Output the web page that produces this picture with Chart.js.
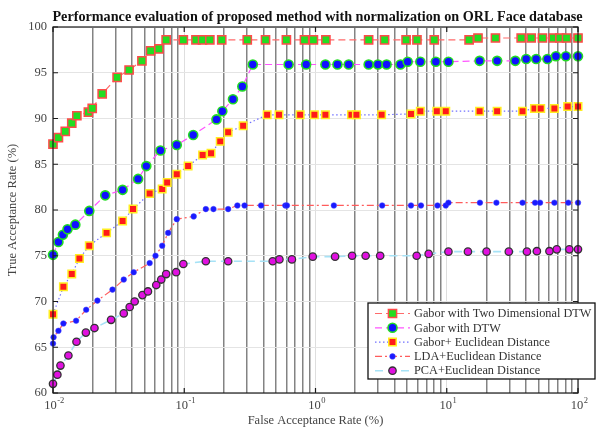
<!DOCTYPE html>
<html>
<head>
<meta charset="utf-8">
<title>ORL Face database – normalization</title>
<script src="https://cdn.jsdelivr.net/npm/chart.js@4.4.1/dist/chart.umd.min.js"></script>
<style>
  html, body { margin: 0; padding: 0; background: #fff; }
  #wrap { width: 596px; height: 430px; }
</style>
</head>
<body>
<div id="wrap"><canvas id="c" width="596" height="430"></canvas></div>
<script>
// ---- text ----
const chartTitle = 'Performance evaluation of proposed method with normalization on ORL Face database';
const xAxisTitle = 'False Acceptance Rate (%)';
const yAxisTitle = 'True Acceptance Rate (%)';
const seriesNames = [
  'Gabor with Two Dimensional DTW',
  'Gabor with DTW',
  'Gabor+ Euclidean Distance',
  'LDA+Euclidean Distance',
  'PCA+Euclidean Distance'
];

// ---- axis ticks ----
const decadeTicks = [0.01, 0.1, 1, 10, 100];
const decadeExponents = ['-2', '-1', '0', '1', '2'];
const minorMultipliers = [2, 3, 4, 5, 6, 7, 8, 9];
const yTickValues = [60, 65, 70, 75, 80, 85, 90, 95, 100];

// ---- series: FAR (%) and TAR (%) ----
const gabor2dFar = [0.01, 0.011, 0.0124, 0.0139, 0.0152, 0.0186, 0.0199, 0.0237, 0.0308, 0.038, 0.0476, 0.0554, 0.0641, 0.0728, 0.0984, 0.1228, 0.1378, 0.1567, 0.193, 0.302, 0.416, 0.6, 0.824, 0.964, 1.2, 2.54, 3.36, 4.9, 5.93, 8.03, 14.8, 17.3, 23.5, 36.9, 44, 53.6, 64.9, 72.8, 81.8, 100];
const gabor2dTar = [87.2, 87.9, 88.6, 89.5, 90.3, 90.7, 91.1, 92.7, 94.5, 95.3, 96.3, 97.4, 97.6, 98.6, 98.6, 98.6, 98.6, 98.6, 98.6, 98.6, 98.6, 98.6, 98.6, 98.6, 98.6, 98.6, 98.6, 98.6, 98.6, 98.6, 98.6, 98.8, 98.8, 98.8, 98.8, 98.8, 98.8, 98.8, 98.8, 98.8];

const gaborDtwFar = [0.01, 0.011, 0.0119, 0.0129, 0.0148, 0.0189, 0.025, 0.0339, 0.0445, 0.0514, 0.0659, 0.0877, 0.117, 0.176, 0.195, 0.235, 0.277, 0.333, 0.624, 0.849, 1.19, 1.47, 1.79, 2.54, 2.99, 3.48, 4.44, 5.04, 6.29, 8.26, 10.3, 17.8, 24.2, 33.3, 40.3, 48, 58.5, 67.9, 80.9, 100];
const gaborDtwTar = [75.1, 76.5, 77.3, 77.9, 78.4, 79.9, 81.6, 82.2, 83.4, 84.8, 86.5, 87.1, 88.2, 89.9, 90.8, 92.1, 93.5, 95.9, 95.9, 95.9, 95.9, 95.9, 95.9, 95.9, 95.9, 95.9, 95.9, 96.2, 96.2, 96.2, 96.2, 96.3, 96.3, 96.3, 96.5, 96.5, 96.5, 96.8, 96.8, 96.8];

const gaborEucFar = [0.01, 0.012, 0.0139, 0.0159, 0.0189, 0.0256, 0.0339, 0.0407, 0.0545, 0.0679, 0.0741, 0.0877, 0.107, 0.138, 0.16, 0.188, 0.216, 0.281, 0.428, 0.527, 0.764, 0.981, 1.19, 1.88, 2.05, 3.19, 5.34, 6.29, 8.4, 9.83, 17.8, 24.2, 37.8, 46.6, 52, 66.1, 83.4, 100];
const gaborEucTar = [68.6, 71.6, 73.0, 74.7, 76.1, 77.5, 78.8, 80.1, 81.8, 82.3, 83.0, 83.9, 84.8, 86.0, 86.2, 87.5, 88.5, 89.2, 90.4, 90.4, 90.4, 90.4, 90.4, 90.4, 90.4, 90.4, 90.5, 90.8, 90.8, 90.8, 90.8, 90.8, 90.8, 91.1, 91.1, 91.1, 91.3, 91.3];

const ldaFar = [0.01, 0.0101, 0.011, 0.012, 0.015, 0.0179, 0.0218, 0.0284, 0.0346, 0.0412, 0.0545, 0.0604, 0.0679, 0.0754, 0.0877, 0.118, 0.146, 0.167, 0.216, 0.254, 0.288, 0.385, 0.589, 0.606, 1.38, 3.22, 5.34, 6.36, 8.5, 9.83, 10.3, 17.9, 23.9, 37.8, 47.1, 51.4, 66.1, 84.3, 100];
const ldaTar = [65.4, 66.1, 66.8, 67.6, 67.9, 69.1, 70.1, 71.3, 72.4, 73.2, 74.2, 75.0, 76.1, 77.5, 79.0, 79.3, 80.1, 80.1, 80.1, 80.5, 80.5, 80.5, 80.5, 80.5, 80.5, 80.5, 80.5, 80.5, 80.5, 80.5, 80.8, 80.8, 80.8, 80.8, 80.8, 80.8, 80.8, 80.8, 80.8];

const pcaFar = [0.01, 0.0108, 0.0114, 0.0131, 0.0151, 0.0178, 0.0207, 0.0277, 0.0346, 0.0384, 0.0419, 0.048, 0.0529, 0.0612, 0.0668, 0.0728, 0.0867, 0.0984, 0.146, 0.216, 0.472, 0.531, 0.661, 0.953, 1.41, 1.9, 2.41, 3.11, 5.9, 7.28, 10.3, 14.5, 20.1, 29.7, 40.8, 48.6, 60.6, 68.9, 85.9, 100];
const pcaTar = [61.0, 62.0, 63.0, 64.1, 65.6, 66.6, 67.1, 68.0, 68.7, 69.4, 70.0, 70.7, 71.1, 71.8, 72.4, 73.0, 73.2, 74.1, 74.4, 74.4, 74.4, 74.6, 74.6, 74.9, 74.9, 75.0, 75.0, 75.0, 75.0, 75.2, 75.45, 75.45, 75.45, 75.45, 75.45, 75.5, 75.5, 75.7, 75.7, 75.7];

// ---- helpers ----
const SERIF = "'Liberation Serif', 'Times New Roman', serif";
const toPoints = (xs, ys) => xs.map((v, i) => ({ x: v, y: ys[i] }));
const isDecade = v => v > 0 && Math.abs(Math.log10(v) - Math.round(Math.log10(v))) < 1e-6;
const xGridValues = [];
decadeTicks.forEach((d, i) => {
  xGridValues.push(d);
  if (i < decadeTicks.length - 1) minorMultipliers.forEach(m => xGridValues.push(+(d * m).toPrecision(6)));
});

function series(label, xs, ys, style) {
  return Object.assign({
    label,
    data: toPoints(xs, ys),
    showLine: true,
    tension: 0,
    clip: false,
    borderWidth: 1.2
  }, style);
}

const datasets = [
  series(seriesNames[0], gabor2dFar, gabor2dTar, {
    borderColor: '#ff6b6b', borderDash: [7, 4],
    pointStyle: 'rect', pointRadius: 5.8, pointBackgroundColor: '#22dd22',
    pointBorderColor: '#ff4a4a', pointBorderWidth: 1.5
  }),
  series(seriesNames[1], gaborDtwFar, gaborDtwTar, {
    borderColor: '#ff55ff', borderDash: [7, 4],
    pointStyle: 'circle', pointRadius: 4.5, pointBackgroundColor: '#1010ff',
    pointBorderColor: '#22dd22', pointBorderWidth: 1.6
  }),
  series(seriesNames[2], gaborEucFar, gaborEucTar, {
    borderColor: '#7070ff', borderDash: [1.5, 2.5],
    pointStyle: 'rect', pointRadius: 5.3, pointBackgroundColor: '#ff1a1a',
    pointBorderColor: '#ffee22', pointBorderWidth: 1.5
  }),
  series(seriesNames[3], ldaFar, ldaTar, {
    borderColor: '#ff5c5c', borderDash: [7, 3, 2, 3],
    pointStyle: 'circle', pointRadius: 2.8, pointBackgroundColor: '#1a1aff',
    pointBorderColor: '#4040ff', pointBorderWidth: 0.5
  }),
  series(seriesNames[4], pcaFar, pcaTar, {
    borderColor: '#a6e2f6', borderDash: [8, 5], borderWidth: 1.6,
    pointStyle: 'circle', pointRadius: 3.7, pointBackgroundColor: '#e010e0',
    pointBorderColor: '#333333', pointBorderWidth: 1.3
  })
];

function drawMarker(ctx, ds, x, y) {
  ctx.save();
  ctx.setLineDash([]);
  ctx.fillStyle = ds.pointBackgroundColor;
  ctx.strokeStyle = ds.pointBorderColor;
  ctx.lineWidth = ds.pointBorderWidth;
  if (Chart.helpers && Chart.helpers.drawPoint) {
    Chart.helpers.drawPoint(ctx, { pointStyle: ds.pointStyle, radius: ds.pointRadius, rotation: 0, borderWidth: ds.pointBorderWidth }, x, y);
  } else {
    ctx.beginPath();
    if (ds.pointStyle === 'rect') {
      const s = ds.pointRadius * Math.SQRT1_2;
      ctx.rect(x - s, y - s, 2 * s, 2 * s);
    } else {
      ctx.arc(x, y, ds.pointRadius, 0, Math.PI * 2);
    }
    ctx.fill();
    ctx.stroke();
  }
  ctx.restore();
}

// background, frame, title, decade labels and legend box
const decorations = {
  id: 'decorations',
  beforeDraw(chart) {
    const { ctx, width, height } = chart;
    ctx.save();
    ctx.fillStyle = '#ffffff';
    ctx.fillRect(0, 0, width, height);
    ctx.restore();
  },
  afterDatasetsDraw(chart) {
    const { ctx, chartArea: a, scales } = chart;
    const xs = scales.x, ys = scales.y;
    ctx.save();

    // axes box and inward ticks
    ctx.strokeStyle = '#1a1a1a';
    ctx.lineWidth = 1.2;
    ctx.setLineDash([]);
    ctx.strokeRect(a.left, a.top, a.right - a.left, a.bottom - a.top);
    ctx.beginPath();
    yTickValues.forEach(v => {
      const p = ys.getPixelForValue(v);
      ctx.moveTo(a.left, p); ctx.lineTo(a.left + 5, p);
      ctx.moveTo(a.right, p); ctx.lineTo(a.right - 5, p);
    });
    decadeTicks.forEach(v => {
      const p = xs.getPixelForValue(v);
      ctx.moveTo(p, a.bottom); ctx.lineTo(p, a.bottom - 5);
      ctx.moveTo(p, a.top); ctx.lineTo(p, a.top + 5);
    });
    ctx.stroke();

    // decade labels 10^k
    ctx.fillStyle = '#444';
    ctx.textBaseline = 'alphabetic';
    decadeTicks.forEach((v, i) => {
      const p = xs.getPixelForValue(v);
      ctx.font = '12.5px ' + SERIF;
      const wb = ctx.measureText('10').width;
      ctx.font = '8.5px ' + SERIF;
      const we = ctx.measureText(decadeExponents[i]).width;
      const x0 = p - (wb + we) / 2 + 1;
      ctx.font = '12.5px ' + SERIF;
      ctx.textAlign = 'left';
      ctx.fillText('10', x0, 409);
      ctx.font = '8.5px ' + SERIF;
      ctx.fillText(decadeExponents[i], x0 + wb + 0.5, 403);
    });

    // title
    ctx.fillStyle = '#111';
    ctx.font = 'bold 14.2px ' + SERIF;
    ctx.textAlign = 'center';
    ctx.textBaseline = 'middle';
    ctx.fillText(chartTitle, (a.left + a.right) / 2 + 2, 17.5);

    // legend
    const box = { left: 368, top: 303, width: 227, height: 76 };
    ctx.fillStyle = '#ffffff';
    ctx.fillRect(box.left, box.top, box.width, box.height);
    ctx.strokeStyle = '#111';
    ctx.lineWidth = 1.3;
    ctx.strokeRect(box.left, box.top, box.width, box.height);
    chart.data.datasets.forEach((ds, i) => {
      const y = box.top + 10.5 + i * 14.3;
      ctx.save();
      ctx.strokeStyle = ds.borderColor;
      ctx.lineWidth = ds.borderWidth;
      ctx.setLineDash(ds.borderDash || []);
      ctx.beginPath();
      ctx.moveTo(box.left + 7, y);
      ctx.lineTo(box.left + 42, y);
      ctx.stroke();
      ctx.restore();
      drawMarker(ctx, ds, box.left + 24.5, y);
      ctx.fillStyle = '#333';
      ctx.font = '12.3px ' + SERIF;
      ctx.textAlign = 'left';
      ctx.textBaseline = 'middle';
      ctx.fillText(ds.label, box.left + 46, y + 0.5);
    });

    ctx.restore();
  }
};

new Chart(document.getElementById('c'), {
  type: 'line',
  data: { datasets },
  plugins: [decorations],
  options: {
    responsive: false,
    devicePixelRatio: 1,
    animation: false,
    layout: { padding: { top: 27, right: 18, left: 0, bottom: 0 } },
    plugins: { legend: { display: false }, tooltip: { enabled: false }, title: { display: false } },
    scales: {
      x: {
        type: 'logarithmic',
        min: 0.01,
        max: 100,
        afterBuildTicks: scale => { scale.ticks = xGridValues.map(v => ({ value: v })); },
        afterFit: scale => { scale.height = 37; },
        ticks: { display: false, autoSkip: false },
        grid: {
          drawTicks: false,
          color: c => (c.tick && isDecade(c.tick.value)) ? '#dedede' : 'rgba(100,100,100,0.8)',
          lineWidth: c => (c.tick && isDecade(c.tick.value)) ? 1 : 1.5
        },
        border: { display: false },
        title: {
          display: true, text: xAxisTitle, color: '#444',
          font: { family: SERIF, size: 12.5 },
          padding: { top: 0, bottom: 2 }
        }
      },
      y: {
        min: 60,
        max: 100,
        afterFit: scale => { scale.width = 53; },
        afterBuildTicks: scale => { scale.ticks = yTickValues.map(v => ({ value: v })); },
        ticks: { color: '#444', font: { family: SERIF, size: 12.5 }, padding: 6 },
        grid: { drawTicks: false, color: '#e4e4e4', lineWidth: 1 },
        border: { display: false },
        title: {
          display: true, text: yAxisTitle, color: '#444',
          font: { family: SERIF, size: 12.5 },
          padding: { top: 5, bottom: 0 }
        }
      }
    }
  }
});
</script>
</body>
</html>
